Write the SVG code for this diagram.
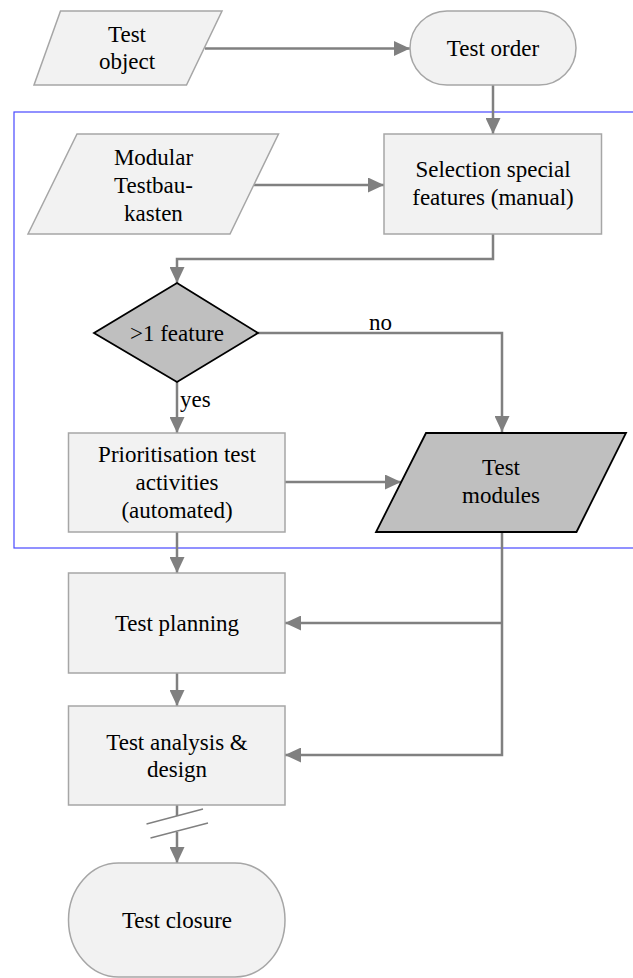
<svg xmlns="http://www.w3.org/2000/svg" width="633" height="978" viewBox="0 0 633 978" font-family="'Liberation Serif', Tinos, 'DejaVu Serif', serif">
<style>
text{font-family:'Liberation Serif',Tinos,'Times New Roman','DejaVu Serif',serif;font-size:23px;fill:#000;text-anchor:middle}
.box{fill:#f2f2f2;stroke:#a6a6a6;stroke-width:1.5}
.dark{fill:#bfbfbf;stroke:#000;stroke-width:1.8}
.con{fill:none;stroke:#808080;stroke-width:2.5}
.brk{fill:none;stroke:#808080;stroke-width:1.3}
.lbl{text-anchor:start}
</style>
<defs>
<marker id="ah" markerUnits="userSpaceOnUse" markerWidth="16" markerHeight="15" refX="16" refY="7.5" orient="auto">
<path d="M0,0 L16,7.5 L0,15 z" fill="#808080"/>
</marker>
</defs>
<rect id="frame" x="14" y="112" width="640" height="436" fill="none" stroke="#4848ff" stroke-width="1.2"/>
<g id="connectors">
<path class="con" d="M205,48.5 H410" marker-end="url(#ah)"/>
<path class="con" d="M493,85 V134" marker-end="url(#ah)"/>
<path class="con" d="M254,185 H384" marker-end="url(#ah)"/>
<path class="con" d="M493,234 V259 H177 V283" marker-end="url(#ah)"/>
<path class="con" d="M258,333 H502 V432" marker-end="url(#ah)"/>
<path class="con" d="M177,382 V433" marker-end="url(#ah)"/>
<path class="con" d="M285,482 H401" marker-end="url(#ah)"/>
<path class="con" d="M177,532 V573" marker-end="url(#ah)"/>
<path class="con" d="M502,532 V755 H285" marker-end="url(#ah)"/>
<path class="con" d="M502,623 H285" marker-end="url(#ah)"/>
<path class="con" d="M177,673 V706" marker-end="url(#ah)"/>
<path class="con" d="M177,805 V816"/>
<path class="con" d="M177,832 V863" marker-end="url(#ah)"/>
<path class="brk" d="M146.5,824 L203,809 M150.5,838 L208,823"/>
</g>
<g id="test-object">
<polygon class="box" points="60.5,11 222,11 186.5,85 34,85"/>
<text x="127" y="41.5">Test</text>
<text x="127" y="69">object</text>
</g>
<g id="test-order">
<rect class="box" x="410" y="11" width="166" height="74" rx="37" ry="37"/>
<text x="493" y="55.5">Test order</text>
</g>
<g id="modular">
<polygon class="box" points="77,134 278.5,134 230,234 28,234"/>
<text x="153.5" y="165">Modular</text>
<text x="153.5" y="193">Testbau-</text>
<text x="153.5" y="221">kasten</text>
</g>
<g id="selection">
<rect class="box" x="384" y="134" width="217.5" height="100"/>
<text x="493" y="177">Selection special</text>
<text x="493" y="205">features (manual)</text>
</g>
<g id="decision">
<polygon class="dark" points="177,283 258,333 177,382 94,333"/>
<text x="177" y="341">&gt;1 feature</text>
</g>
<text class="lbl" x="369" y="330">no</text>
<text class="lbl" x="180" y="407">yes</text>
<g id="prioritisation">
<rect class="box" x="68.5" y="433" width="216.5" height="99"/>
<text x="177" y="462">Prioritisation test</text>
<text x="177" y="490">activities</text>
<text x="177" y="518">(automated)</text>
</g>
<g id="test-modules">
<polygon class="dark" points="426,433 626,433 576.5,532 376,532"/>
<text x="501" y="475">Test</text>
<text x="501" y="503">modules</text>
</g>
<g id="test-planning">
<rect class="box" x="68.5" y="573" width="216.5" height="100"/>
<text x="177" y="631">Test planning</text>
</g>
<g id="test-analysis">
<rect class="box" x="68.5" y="706" width="216.5" height="99"/>
<text x="177" y="750">Test analysis &amp;</text>
<text x="177" y="777">design</text>
</g>
<g id="test-closure">
<rect class="box" x="68.5" y="863" width="216.5" height="114" rx="50" ry="57"/>
<text x="177" y="928">Test closure</text>
</g>
</svg>
